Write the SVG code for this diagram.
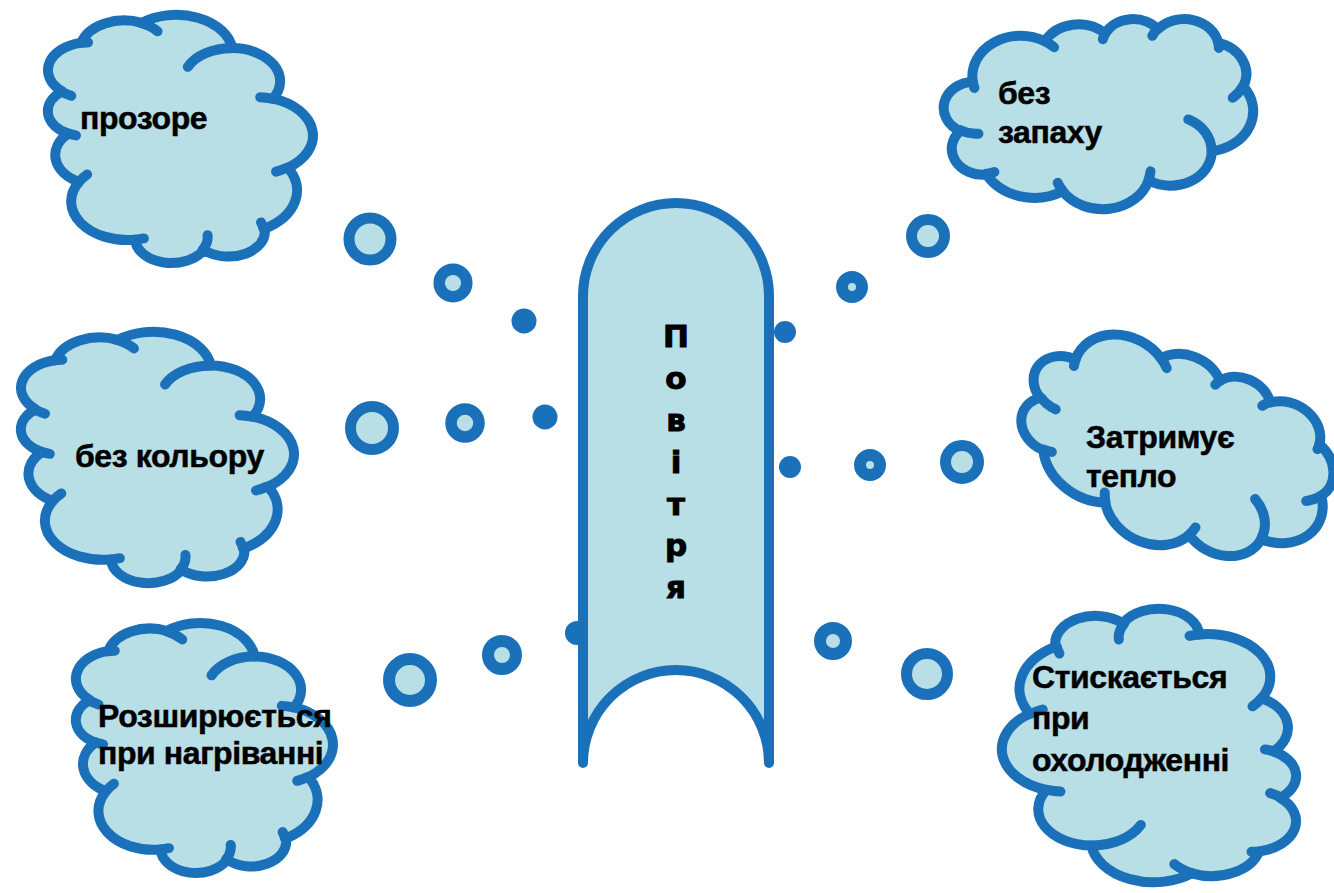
<svg xmlns="http://www.w3.org/2000/svg" xmlns:xlink="http://www.w3.org/1999/xlink" width="1334" height="893" viewBox="0 0 1334 893">
<style>
.cf{fill:#b8dee6;stroke:#1b70ba;stroke-width:10;stroke-linejoin:round;vector-effect:non-scaling-stroke}
.cl{fill:none;stroke:#1b70ba;stroke-width:10;stroke-linecap:round;vector-effect:non-scaling-stroke}
.lbl{font-family:"Liberation Sans",Arial,sans-serif;font-weight:bold;font-size:32px;fill:#000;stroke:#000;stroke-width:0.5;letter-spacing:-0.4px}
.vt{font-family:"DejaVu Sans","Liberation Sans",sans-serif;font-weight:bold;font-size:31px;fill:#000;stroke:#000;stroke-width:1;text-anchor:middle}
.b{fill:#b8dee6;stroke:#1b70ba}
.d{fill:#1b70ba}
</style>
<defs>
<g id="cloud">
<path class="cf" d="M39.00,143.70A67.53,91.90 0 0 1 140.10,52.02A53.33,72.67 0 0 1 224.63,34.33A43.65,59.45 0 0 1 298.41,24.82A48.57,65.95 0 0 1 383.25,55.77A53.33,72.73 0 0 1 418.26,154.61A67.75,92.20 0 0 1 374.11,302.03A57.85,78.67 0 0 1 285.63,368.13A67.52,92.15 0 0 1 164.88,392.66A77.20,105.43 0 0 1 58.13,354.74A43.60,59.18 0 0 1 21.20,255.55A43.45,59.45 0 0 1 39.00,143.70Z"/>
<path class="cl" d="M46.93,261.77A43.45,59.45 0 0 1 21.60,253.80M69.28,348.99A43.60,59.18 0 0 1 58.20,352.81M164.78,390.90A67.52,92.15 0 0 1 158.09,373.48M288.27,347.51A67.52,92.15 0 0 1 285.60,366.60M341.29,229.54A57.85,78.67 0 0 1 373.81,300.90M417.98,153.54A53.33,72.73 0 0 1 403.50,180.30M383.24,54.26A48.57,65.95 0 0 1 384.01,66.90M290.78,39.52A48.57,65.95 0 0 1 298.20,23.39M221.41,47.20A43.65,59.45 0 0 1 225.00,33.31M140.00,51.92A67.53,91.90 0 0 1 153.02,65.43M41.27,157.89A67.53,91.90 0 0 1 38.95,143.71"/>
</g>
</defs>
<rect width="1334" height="893" fill="#fff"/>

<g id="connectors">
<circle class="b" cx="370" cy="239" r="21" stroke-width="11"/>
<circle class="b" cx="453" cy="283" r="13.8" stroke-width="11.5"/>
<circle class="d" cx="524" cy="321" r="12.5"/>
<circle class="b" cx="372" cy="428" r="21.5" stroke-width="11"/>
<circle class="b" cx="465" cy="423" r="14" stroke-width="11.5"/>
<circle class="d" cx="545" cy="417" r="12.5"/>
<circle class="b" cx="410" cy="680" r="21" stroke-width="12"/>
<circle class="b" cx="502" cy="655" r="14" stroke-width="12"/>
<circle class="d" cx="577" cy="633" r="12"/>
<circle class="b" cx="928" cy="236" r="16.5" stroke-width="11"/>
<circle class="b" cx="852" cy="287" r="10" stroke-width="12"/>
<circle class="d" cx="785" cy="332" r="11"/>
<circle class="d" cx="790" cy="467" r="11"/>
<circle class="b" cx="870" cy="465" r="10" stroke-width="12"/>
<circle class="b" cx="962" cy="462" r="16.5" stroke-width="11"/>
<circle class="b" cx="833" cy="641" r="13" stroke-width="12"/>
<circle class="b" cx="927" cy="674" r="20.5" stroke-width="11"/>
</g>

<g id="node-povitria">
<path d="M583,763 L583,296 A93,93 0 0 1 769,296 L769,763 A93,93 0 0 0 583,763 Z" fill="#b8dee6" stroke="#1b70ba" stroke-width="10" stroke-linejoin="round" stroke-linecap="round"/>
<text class="vt" x="676" y="347">П</text>
<text class="vt" x="676" y="389">о</text>
<text class="vt" x="676" y="431">в</text>
<text class="vt" x="676" y="473">і</text>
<text class="vt" x="676" y="515">т</text>
<text class="vt" x="676" y="556">р</text>
<text class="vt" x="676" y="598">я</text>
</g>

<g id="node-prozore">
<use xlink:href="#cloud" transform="translate(179.5,138.5) scale(0.6134,0.5718) rotate(-90) translate(-216,-216)"/>
<text class="lbl" x="80" y="129">прозоре</text>
</g>

<g id="node-bez-koloru">
<use xlink:href="#cloud" transform="translate(156.5,457) scale(0.632,0.579) rotate(-90) translate(-216,-216)"/>
<text class="lbl" x="75" y="467">без кольору</text>
</g>

<g id="node-rozshyriuietsia">
<use xlink:href="#cloud" transform="translate(203.5,747.5) scale(0.595,0.576) rotate(-90) translate(-216,-216)"/>
<text class="lbl" x="98" y="727">Розширюється</text>
<text class="lbl" x="98" y="764">при нагріванні</text>
</g>

<g id="node-bez-zapakhu">
<use xlink:href="#cloud" transform="translate(1099,113.5) scale(0.713,0.44) translate(-216,-216)"/>
<text class="lbl" x="998" y="104">без</text>
<text class="lbl" x="998" y="143">запаху</text>
</g>

<g id="node-zatrymuie">
<use xlink:href="#cloud" transform="translate(1176,450) rotate(28) scale(0.741,0.451) translate(-216,-216)"/>
<text class="lbl" x="1086" y="448">Затримує</text>
<text class="lbl" x="1086" y="487">тепло</text>
</g>

<g id="node-styskaietsia">
<use xlink:href="#cloud" transform="translate(1150,746) scale(0.681,0.630) rotate(90) translate(-216,-216)"/>
<text class="lbl" x="1032" y="688">Стискається</text>
<text class="lbl" x="1032" y="729">при</text>
<text class="lbl" x="1032" y="771">охолодженні</text>
</g>
</svg>
